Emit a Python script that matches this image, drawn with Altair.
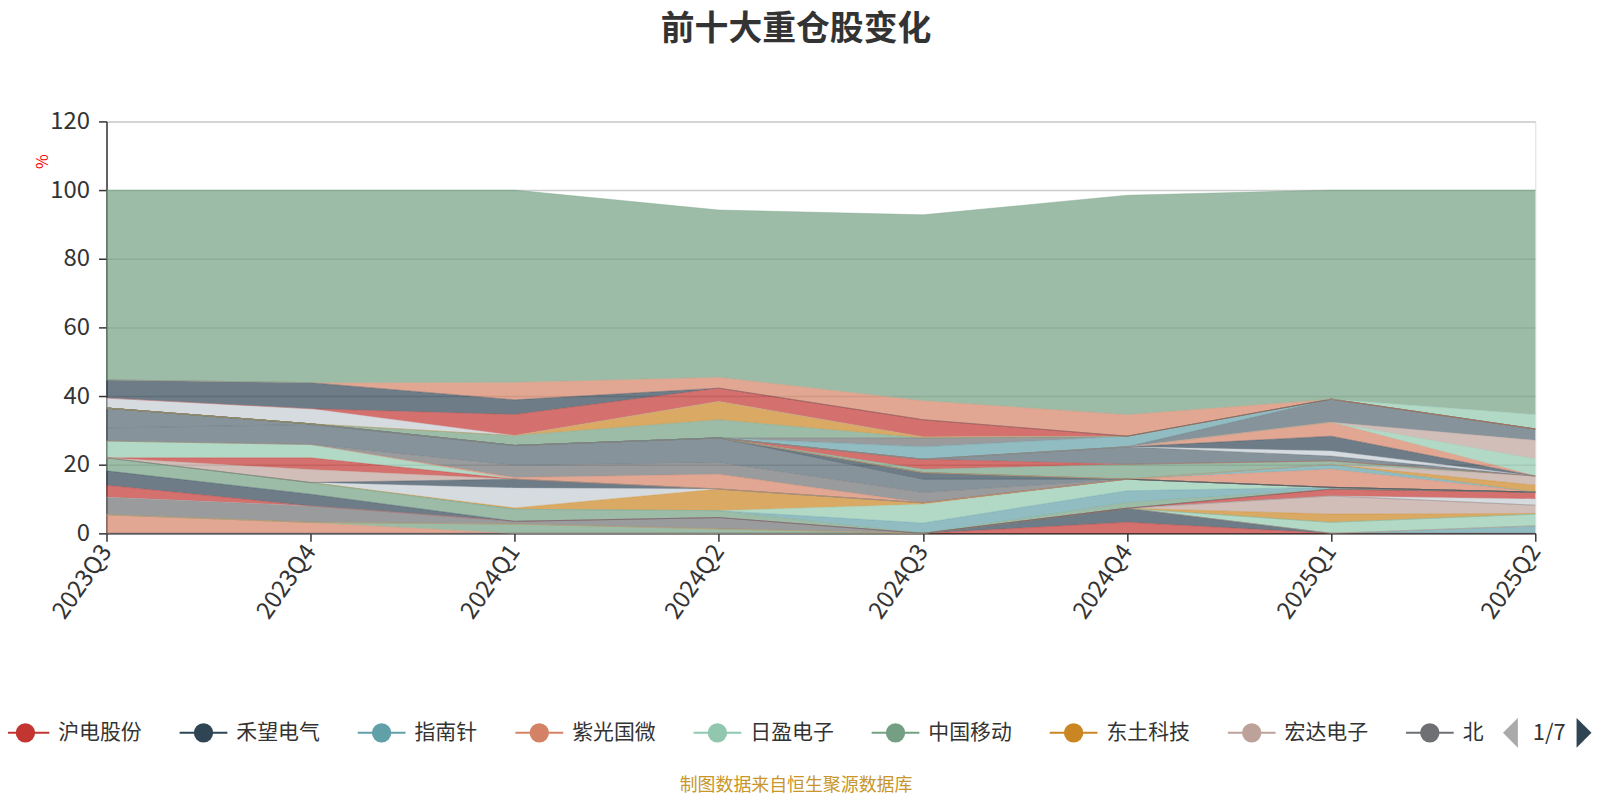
import altair as alt
import pandas as pd

# ---------------- data ----------------
quarters = ["2023Q3", "2023Q4", "2024Q1", "2024Q2", "2024Q3", "2024Q4", "2025Q1", "2025Q2"]
totals = [100, 100, 100, 94.2, 92.8, 98.5, 100, 100]

stock_names = [
    "沪电股份", "禾望电气", "指南针", "紫光国微", "日盈电子", "中国移动", "东土科技", "宏达电子", "北京君正",
    "工业富联", "中际旭创", "新易盛", "胜宏科技", "寒武纪", "海光信息", "中兴通讯", "浪潮信息",
    "生益科技", "沪硅产业", "中芯国际", "澜起科技", "兆易创新", "韦尔股份", "立讯精密", "鹏鼎控股",
    "深南电路", "景旺电子", "天孚通信", "光迅科技", "紫光股份", "华工科技", "中科曙光", "金山办公",
    "科大讯飞", "润泽科技", "英维克", "麦格米特", "东山精密", "思源电气", "中国联通", "中国电信",
    "长电科技", "通富微电", "卓胜微", "圣邦股份", "北方华创", "中微公司", "晶晨股份", "其他",
]

stock_values = [
    [0, 0, 0, 0, 0, 3.2, 0, 0],
    [0, 0, 0, 0, 0, 4.1, 0, 0],
    [0, 0, 0, 0, 0, 0, 0, 2.2],
    [5.4, 3.2, 0, 0, 0, 0, 0, 0],
    [0, 0, 0, 0, 0, 0, 3.2, 3.4],
    [0, 0, 2.7, 1.3, 0, 0, 0, 0],
    [0, 0, 0, 0, 0, 0, 2.4, 0.2],
    [0, 0, 0, 0, 0, 0, 5.3, 2.4],
    [5.1, 4.8, 0.8, 3.3, 0, 0, 0, 0],
    [0, 0, 0, 0, 0, 0, 0, 1.8],
    [3.5, 0, 0, 0, 0, 0, 2.0, 2.0],
    [4.2, 3.4, 0, 0, 0, 0, 0, 0],
    [3.8, 3.4, 3.5, 2.0, 0, 1.7, 0, 0],
    [0, 0, 0, 0, 3.0, 3.4, 0.5, 0],
    [0, 0, 0, 0, 5.5, 3.4, 0, 0],
    [0, 0, 0.4, 6.3, 0.4, 0, 0, 0],
    [0, 0, 5.8, 0, 0, 0, 0, 0],
    [0, 0, 2.6, 0, 0, 0, 0, 0],
    [0, 3.8, 0, 0, 0, 0, 0, 0],
    [0, 3.4, 0, 0, 0, 0, 0, 0],
    [4.9, 3.9, 0, 0, 0, 0, 0, 0],
    [0, 0, 0.5, 4.3, 0, 0, 0, 0],
    [0, 0, 3.5, 3.4, 3.0, 0, 0, 0],
    [3.8, 5.8, 5.8, 7.2, 3.9, 0, 0, 0],
    [5.8, 0.2, 0, 0, 0, 0, 0, 0],
    [0, 0, 0, 0, 1.9, 0, 0, 0],
    [0, 0, 0, 0, 0, 0, 5.3, 0],
    [0, 0, 0, 0, 0, 0, 1.4, 0],
    [0, 0, 0, 0, 0, 0, 0, 2.0],
    [0, 0, 0, 0, 0, 0, 0, 2.7],
    [0, 0, 0, 0, 1.0, 4.3, 1.0, 0],
    [0, 0, 0, 0, 2.9, 0, 0, 0],
    [0, 0, 0, 0, 0, 5.1, 1.4, 0],
    [0, 0, 0, 0, 0, 0, 1.5, 0],
    [0, 0, 0, 0, 0, 0, 4.3, 0],
    [0, 0, 0, 0, 0, 0, 4.1, 0],
    [0, 0, 0, 0, 0, 0, 0, 5.0],
    [0, 0, 0, 0, 0, 0, 0, 5.4],
    [0, 0, 0, 0, 0, 0, 6.7, 3.3],
    [0, 0, 0, 0, 3.6, 3.1, 0, 0],
    [0, 0, 0, 0, 2.6, 0, 0, 0],
    [0, 0, 2.9, 5.3, 0, 0, 0, 0],
    [0, 0, 0, 5.3, 0.3, 0, 0, 0],
    [2.9, 4.4, 0, 0, 0, 0, 0, 0],
    [0, 0, 6.1, 3.9, 5.0, 0, 0, 0],
    [5.3, 7.6, 4.3, 0, 0, 0, 0, 0],
    [0, 0, 5.1, 3.2, 5.6, 6.3, 0, 0],
    [0, 0, 0, 0, 0, 0, 0, 4.2],
]

legend_count = 9
pager_text = "1/7"
chart_title = "前十大重仓股变化"
source_note = "制图数据来自恒生聚源数据库"

# ---------------- styles ----------------
PALETTE = {
    "red": "#c23531", "slate": "#2f4554", "teal": "#61a0a8", "salmon": "#d48265",
    "lgreen": "#91c7ae", "green": "#749f83", "orange": "#ca8622", "tan": "#bda29a",
    "grey6e": "#6e7074", "grey54": "#546570", "white": "#c4ccd3",
}
series_style = [
    "red", "slate", "teal", "salmon", "lgreen", "green", "orange", "tan", "grey6e",
    "white", "red", "slate", "green", "teal", "lgreen", "orange", "white", "slate",
    "tan", "red", "lgreen", "salmon", "grey6e", "grey54", "grey54", "slate",
    "salmon", "teal", "orange", "tan", "green", "red", "grey54", "white", "slate",
    "salmon", "lgreen", "tan", "grey54", "teal", "grey6e", "green", "orange",
    "white", "red", "slate", "salmon", "lgreen", "green",
]

# the last series ("其他") fills up to each quarter's total
other = [round(t - sum(v[i] for v in stock_values), 2) for i, t in enumerate(totals)]
all_values = stock_values + [other]
all_names = stock_names
all_colors = [PALETTE[s] for s in series_style[: len(all_names)]]

rows = []
for idx, (nm, vals) in enumerate(zip(all_names, all_values)):
    for q, v in zip(quarters, vals):
        rows.append({"quarter": q, "name": nm, "value": v, "idx": idx})
df = pd.DataFrame(rows)

FONT = "Noto Sans CJK SC"
W, H = 1436, 414
PAD_L, PAD_T = 99, 112
X0, Y0 = PAD_L + 8, PAD_T + 8  # plot origin on the page

color_scale = alt.Scale(domain=all_names, range=all_colors)

area = alt.Chart(df).mark_area(opacity=0.7, line={"strokeWidth": 0.6, "opacity": 0.6}).encode(
    x=alt.X(
        "quarter:O", sort=quarters, title=None,
        scale=alt.Scale(type="point", padding=0),
        axis=alt.Axis(labelAngle=-55, labelFontSize=24, labelColor="#333", labelPadding=6,
                      domainColor="#333", domainWidth=1.5, tickColor="#333", tickSize=8,
                      tickWidth=1.5, grid=False, labelFont=FONT),
    ),
    y=alt.Y(
        "value:Q", stack="zero",
        scale=alt.Scale(domain=[0, 120], nice=False),
        axis=alt.Axis(values=[0, 20, 40, 60, 80, 100, 120], labelFontSize=24, labelColor="#333",
                      labelPadding=9, domainColor="#333", domainWidth=1.5, tickColor="#333",
                      tickSize=8, tickWidth=1.5, gridColor="#cccccc", gridWidth=1.5,
                      title="%", titleColor="red", titleFontSize=16, titleFontWeight="normal",
                      titleX=-64, titleY=40, titleAlign="center", titleBaseline="middle",
                      labelFont=FONT, titleFont=FONT),
    ),
    color=alt.Color("name:N", scale=color_scale, legend=None),
    order=alt.Order("idx:Q", sort="ascending"),
)

# ---------------- custom legend (first page) ----------------
leg_names = stock_names[:legend_count]
leg_labels = leg_names[:-1] + [leg_names[-1][:1]]
cx = []
cur = 25.5
for nm in leg_names:
    cx.append(cur - X0)
    cur += 97 + 20.5 * len(nm)
leg_df = pd.DataFrame({
    "name": leg_names, "label": leg_labels, "cx": cx,
    "lx1": [c - 24 for c in cx], "lx2": [c + 24 for c in cx], "tx": [c + 33 for c in cx],
})
LEG_Y = 734.5 - Y0

leg_lines = alt.Chart(leg_df).mark_rule(strokeWidth=2).encode(
    x=alt.X("lx1:Q", scale=None, axis=None), x2="lx2:Q", y=alt.value(LEG_Y),
    color=alt.Color("name:N", scale=color_scale, legend=None),
)
leg_dots = alt.Chart(leg_df).mark_point(filled=True, opacity=1, size=380, shape="circle").encode(
    x=alt.X("cx:Q", scale=None, axis=None), y=alt.value(LEG_Y),
    color=alt.Color("name:N", scale=color_scale, legend=None),
)
leg_text = alt.Chart(leg_df).mark_text(align="left", baseline="middle", fontSize=21,
                                       color="#333", font=FONT).encode(
    x=alt.X("tx:Q", scale=None, axis=None), y=alt.value(LEG_Y), text="label:N",
)

pager_df = pd.DataFrame({"t": [pager_text]})
pager_left = alt.Chart(pager_df).mark_point(shape="M0.5,-1L-0.5,0L0.5,1Z", filled=True, size=900,
                                            color="#aaaaaa", opacity=1).encode(
    x=alt.value(1518 - X0), y=alt.value(LEG_Y))
pager_right = alt.Chart(pager_df).mark_point(shape="M-0.5,-1L0.5,0L-0.5,1Z", filled=True, size=900,
                                             color="#2f4554", opacity=1).encode(
    x=alt.value(1592 - X0), y=alt.value(LEG_Y))
pager_txt = alt.Chart(pager_df).mark_text(fontSize=22, color="#333", font=FONT,
                                          baseline="middle").encode(
    x=alt.value(1557 - X0), y=alt.value(LEG_Y), text="t:N")

title_df = pd.DataFrame({"t": [chart_title]})
title_txt = alt.Chart(title_df).mark_text(fontSize=34, fontWeight="bold", color="#333",
                                          font=FONT, baseline="top").encode(
    x=alt.value(800 - X0), y=alt.value(11 - Y0), text="t:N")

src_df = pd.DataFrame({"t": [source_note]})
src_txt = alt.Chart(src_df).mark_text(fontSize=18, color="#c8962a", font=FONT,
                                      baseline="middle").encode(
    x=alt.value(800 - X0), y=alt.value(788 - Y0), text="t:N")

chart = alt.layer(
    area, leg_lines, leg_dots, leg_text, pager_left, pager_right, pager_txt, title_txt, src_txt
).resolve_scale(x="independent").properties(
    width=W, height=H,
    autosize=alt.AutoSizeParams(type="none"),
    padding={"left": PAD_L, "top": PAD_T, "right": 1592 - PAD_L - W, "bottom": 266},
).configure_view(stroke=None).configure(font=FONT)

chart.save("out.html", embed_options={"renderer": "svg", "actions": False})
